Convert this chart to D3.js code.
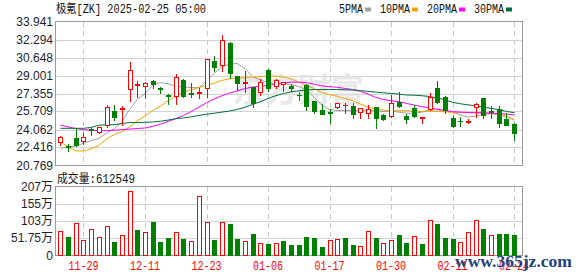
<!DOCTYPE html>
<html>
<head>
<meta charset="utf-8">
<script src="https://cdn.jsdelivr.net/npm/d3@7"></script>
<style>
  body { margin: 0; background: #fff; }
  svg { display: block; }
  .mono { font-family: "Liberation Mono", "Noto Sans CJK SC", monospace; font-size: 12px; }
  .axis { font-family: "Liberation Sans", "Noto Sans CJK SC", sans-serif; font-size: 12px; fill: #1e1e32; }
</style>
</head>
<body>
<svg id="chart" width="578" height="276"></svg>
<script>
// trading days shown (60 candles)
const dates = ["11-25","11-26","11-27","11-29","12-02","12-03","12-04","12-05","12-06","12-09",
  "12-10","12-11","12-12","12-13","12-16","12-17","12-18","12-19","12-20","12-23",
  "12-24","12-26","12-27","12-30","12-31","01-02","01-03","01-06","01-07","01-08",
  "01-10","01-13","01-14","01-15","01-16","01-17","01-21","01-22","01-23","01-24",
  "01-27","01-28","01-29","01-30","01-31","02-03","02-04","02-05","02-06","02-07",
  "02-10","02-11","02-12","02-13","02-14","02-18","02-19","02-20","02-21","02-24"];

const open = [22.90,22.55,23.27,23.05,24.08,23.87,24.48,25.75,25.95,27.75,
  28.10,28.05,28.48,27.85,27.20,27.12,28.57,27.36,27.40,27.87,
  30.30,29.94,32.00,28.94,28.35,27.96,27.48,29.50,28.05,28.20,
  28.05,27.25,28.12,26.66,25.84,25.62,26.14,26.27,26.23,25.69,
  25.60,26.09,25.39,25.32,26.54,25.30,26.00,25.15,25.91,27.82,
  27.00,25.09,24.87,24.72,26.09,26.91,25.72,25.91,25.00,24.57];
const high = [23.57,22.83,24.33,23.87,24.32,24.41,26.36,26.36,26.30,30.33,
  28.57,28.51,28.66,28.03,27.38,29.27,28.78,28.42,27.96,30.60,
  30.91,32.82,32.12,29.09,29.48,28.05,28.78,29.70,28.75,28.50,
  28.35,27.57,28.27,26.75,26.45,25.99,26.54,26.60,26.60,26.14,
  26.36,26.14,25.54,27.27,27.57,25.54,26.39,25.30,27.51,28.57,
  27.21,25.39,25.30,25.09,26.60,27.05,26.30,26.30,25.69,24.78];
const low = [22.66,22.05,22.51,22.72,23.57,23.72,24.33,24.93,24.48,26.66,
  27.05,26.91,27.82,27.36,26.36,26.39,27.05,27.05,26.91,27.05,
  29.42,29.42,28.73,27.66,27.51,26.14,27.20,27.60,27.85,27.60,
  27.60,26.75,25.84,25.54,25.45,24.69,25.99,25.60,25.09,25.09,
  25.09,24.23,24.93,25.23,26.14,24.69,25.23,24.69,25.84,26.45,
  25.54,24.27,24.42,24.63,25.23,25.09,25.09,24.33,24.48,23.11];
const close = [23.36,22.48,22.60,23.41,24.02,24.27,26.09,25.23,26.02,29.48,
  28.20,28.33,28.21,27.78,27.14,28.87,27.14,27.30,27.47,30.48,
  29.78,32.28,29.24,28.33,28.40,26.50,28.45,27.85,28.55,28.42,
  27.90,27.18,26.23,25.75,25.51,25.57,26.45,26.33,25.45,26.00,
  25.93,25.09,25.02,26.45,26.23,25.02,25.32,25.21,27.00,26.60,
  25.84,24.42,24.81,24.87,26.36,25.39,25.66,24.63,24.51,23.72];

const volume = [740000,560000,970000,470000,790000,550000,890000,420000,610000,1940000,
  770000,710000,1020000,420000,530000,710000,500000,450000,1790000,1010000,
  470000,1010000,950000,500000,440000,650000,370000,350000,370000,440000,
  320000,320000,560000,530000,260000,470000,500000,530000,320000,290000,
  740000,530000,370000,470000,620000,390000,590000,360000,1070000,950000,
  530000,500000,410000,710000,1070000,800000,620000,650000,650000,612549];
// volume bar colour (1 = red, 0 = green)
const volUp = [1,0,1,1,1,1,1,0,1,1, 0,1,0,0,0,1,0,1,1,1, 0,1,0,0,1,0,1,0,1,0,
  0,0,0,0,0,1,1,0,0,1, 1,0,1,1,0,0,1,0,1,0, 0,0,1,1,1,0,1,0,0,0];

const ma5 = [22.36,22.45,22.55,22.80,23.05,23.25,23.70,24.15,24.75,25.90,
  26.80,27.35,28.10,28.35,28.25,28.00,27.95,27.90,27.90,28.50,
  29.20,29.80,30.05,30.10,29.65,28.90,28.60,28.35,28.20,28.30,
  28.15,28.00,27.70,27.00,26.30,25.90,25.80,25.80,25.80,25.80,
  25.85,25.75,25.70,25.75,25.65,25.55,25.55,25.65,25.85,25.85,
  25.80,25.65,25.40,25.20,25.30,25.45,25.50,25.45,25.25,25.00];
const ma10 = [22.90,22.50,22.10,22.10,22.30,22.60,23.20,23.60,23.85,24.30,
  24.85,25.30,25.80,26.20,26.70,27.10,27.45,27.70,27.90,28.10,
  28.30,28.55,28.70,28.75,28.80,28.85,28.90,28.95,28.95,28.85,
  28.70,28.40,28.10,27.80,27.45,27.25,27.10,26.90,26.70,26.40,
  26.10,25.95,25.82,25.78,25.78,25.78,25.75,25.72,25.72,25.70,
  25.68,25.62,25.60,25.60,25.60,25.58,25.55,25.45,25.25,24.90];
const ma20 = [24.45,24.30,24.15,24.05,24.00,23.95,23.95,24.00,24.05,24.10,
  24.15,24.20,24.35,24.55,24.80,25.05,25.35,25.70,26.10,26.50,
  26.85,27.15,27.40,27.60,27.80,27.95,28.00,28.10,28.20,28.30,
  28.40,28.40,28.35,28.20,28.05,27.98,27.92,27.82,27.72,27.55,
  27.30,27.00,26.80,26.70,26.60,26.45,26.30,26.15,26.05,25.92,
  25.80,25.70,25.65,25.62,25.60,25.58,25.55,25.52,25.47,25.40];
const ma30 = [24.17,24.17,24.17,24.17,24.25,24.45,24.50,24.50,24.60,24.70,
  24.70,24.72,24.75,24.82,24.92,25.05,25.12,25.22,25.35,25.45,
  25.55,25.65,25.75,25.90,26.10,26.35,26.60,26.90,27.15,27.35,
  27.50,27.60,27.68,27.72,27.72,27.72,27.72,27.70,27.68,27.62,
  27.55,27.48,27.42,27.36,27.30,27.22,27.20,27.15,27.08,26.95,
  26.78,26.55,26.42,26.32,26.22,26.12,26.00,25.88,25.72,25.60];

const priceTicks = [33.941, 32.294, 30.648, 29.001, 27.355, 25.709, 24.062, 22.416, 20.769];
const volTicks = [2070000, 1552500, 1035000, 517500, 0];
const volTickLabels = ["207万", "155万", "103万", "51.75万", "0"];
const labelDates = ["11-29","12-11","12-23","01-06","01-17","01-30","02-11","02-24"];

const maNames = ["5PMA", "10PMA", "20PMA", "30PMA"];
const maColors = ["#a0a0a0", "#f4a300", "#ff00ff", "#006f35"];
const title = "极氪[ZK] 2025-02-25 05:00";

const red = "#ff0000", green = "#008000";
const left = 55.5, right = 522.5;
const priceTop = 21.5, priceBottom = 165.5;
const volTop = 186.5, volBottom = 255.5;

const svg = d3.select("#chart");

const x = d3.scalePoint().domain(dates).range([60.4, 514.1]);
const y = d3.scaleLinear().domain([20.769, 33.941]).range([priceBottom, priceTop]);
const yv = d3.scaleLinear().domain([0, 2070000]).range([volBottom, volTop]);

const px = v => Math.round(v) + 0.5;
const cx = d => px(x(d));

// width of SimSun-like text: cjk 12px, ascii 6px
const simW = s => Array.from(s).reduce((w, c) => w + (c.charCodeAt(0) > 255 ? 12 : 6), 0);
const monoText = (g, str, xx, yy, fill) => g.append("text")
  .attr("class", "mono").attr("x", xx).attr("y", yy).attr("fill", fill)
  .attr("textLength", simW(str)).attr("lengthAdjust", "spacingAndGlyphs").text(str);

// ---- grid ----
const grid = svg.append("g").attr("shape-rendering", "crispEdges");
grid.selectAll(".pg").data(priceTicks.slice(1, -1)).join("line")
  .attr("x1", left).attr("x2", right)
  .attr("y1", d => px(y(d))).attr("y2", d => px(y(d)))
  .attr("stroke", "#d2d2d2");
grid.selectAll(".vg").data(volTicks.slice(1, -1)).join("line")
  .attr("class", "vg")
  .attr("x1", left).attr("x2", right)
  .attr("y1", d => px(yv(d))).attr("y2", d => px(yv(d)))
  .attr("stroke", "#d2d2d2");
[[priceTop, priceBottom], [volTop, volBottom]].forEach(([t, b]) => {
  grid.append("g").selectAll("line").data(labelDates).join("line")
    .attr("x1", cx).attr("x2", cx).attr("y1", t).attr("y2", b)
    .attr("stroke", "#c8c8c8").attr("stroke-dasharray", "5,4");
});

// faint watermark
svg.append("text").attr("x", 232).attr("y", 102)
  .attr("font-family", "Noto Sans CJK SC").attr("font-weight", "bold").attr("font-size", 33)
  .attr("fill", "#e2e2e2").attr("fill-opacity", 0.8).text("东方财富");

// ---- frames ----
const frames = svg.append("g").attr("shape-rendering", "crispEdges")
  .attr("fill", "none").attr("stroke", "#9a9a9a");
frames.append("rect").attr("x", left).attr("y", priceTop).attr("width", right - left).attr("height", priceBottom - priceTop);
frames.append("rect").attr("x", left).attr("y", volTop).attr("width", right - left).attr("height", volBottom - volTop);

// ---- moving averages ----
const maSeries = [ma5, ma10, ma20, ma30];
const line = d3.line().x((v, i) => x(dates[i])).y(v => y(v));
svg.append("g").selectAll("path").data(maSeries).join("path")
  .attr("d", line).attr("fill", "none")
  .attr("stroke", (d, i) => maColors[i]).attr("stroke-width", 1);

// ---- candles ----
const cg = svg.append("g").attr("shape-rendering", "crispEdges");
dates.forEach((d, i) => {
  const c = cx(d);
  const up = close[i] >= open[i];
  const col = up ? red : green;
  const top = px(y(Math.max(open[i], close[i])));
  const bot = px(y(Math.min(open[i], close[i])));
  cg.append("line").attr("x1", c).attr("x2", c)
    .attr("y1", px(y(high[i]))).attr("y2", px(y(low[i]))).attr("stroke", col);
  if (bot - top < 1) {
    cg.append("line").attr("x1", c - 2.5).attr("x2", c + 2.5)
      .attr("y1", top).attr("y2", top).attr("stroke", col);
  } else if (up) {
    cg.append("rect").attr("x", c - 2).attr("y", top).attr("width", 4).attr("height", bot - top)
      .attr("fill", "#fff").attr("stroke", red);
  } else {
    cg.append("rect").attr("x", c - 2.5).attr("y", top - 0.5).attr("width", 5).attr("height", bot - top + 1)
      .attr("fill", green);
  }
});

// ---- volume ----
const vg = svg.append("g").attr("shape-rendering", "crispEdges");
dates.forEach((d, i) => {
  const c = cx(d);
  const t = px(yv(volume[i]));
  if (volUp[i]) {
    vg.append("rect").attr("x", c - 2).attr("y", t).attr("width", 4).attr("height", volBottom - t)
      .attr("fill", "#fff").attr("stroke", red);
  } else {
    vg.append("rect").attr("x", c - 2.5).attr("y", t - 0.5).attr("width", 5).attr("height", volBottom - t + 0.5)
      .attr("fill", green);
  }
});

// ---- axes labels ----
svg.append("g").selectAll("text").data(priceTicks).join("text")
  .attr("class", "axis").attr("x", 53).attr("y", d => y(d))
  .attr("text-anchor", "end").attr("dominant-baseline", "central")
  .text(d => d.toFixed(3));
svg.append("g").selectAll("text").data(volTicks).join("text")
  .attr("class", "axis").attr("x", 53).attr("y", d => yv(d))
  .attr("text-anchor", "end").attr("dominant-baseline", "central")
  .text((d, i) => volTickLabels[i]);

const xl = svg.append("g");
labelDates.forEach(d => monoText(xl, d, x(d) - simW(d) / 2, 270, red));

// ---- title, legend, volume readout ----
monoText(svg, title, 56, 13, "#111");
monoText(svg, "成交量:" + volume[volume.length - 1], 57, 182.5, "#111");

let lx = 339;
maNames.forEach((n, i) => {
  monoText(svg, n, lx, 13, "#111");
  lx += simW(n) + 2;
  svg.append("rect").attr("x", lx).attr("y", 7.5).attr("width", 6).attr("height", 4)
    .attr("fill", maColors[i]);
  lx += 15;
});

// site watermark at the bottom right
svg.append("text").attr("x", 455).attr("y", 267)
  .attr("font-family", "Liberation Serif").attr("font-weight", "bold").attr("font-size", 17)
  .attr("fill", "#24427c").attr("textLength", 117).attr("lengthAdjust", "spacingAndGlyphs")
  .text("www.365jz.com");
</script>
</body>
</html>
